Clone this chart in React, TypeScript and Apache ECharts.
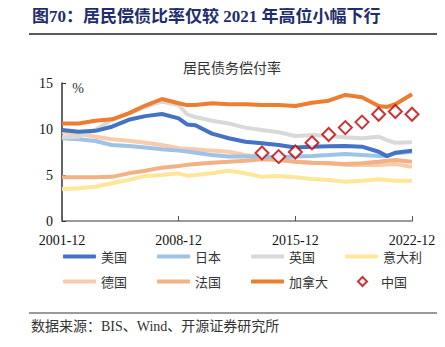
import React, { useEffect, useRef } from "react";
import * as echarts from "echarts";

// Time points (year-end; two extra half-year points)
const years = [
  2001, 2002, 2003, 2004, 2005, 2006, 2007, 2008, 2008.5, 2009, 2010, 2011, 2012,
  2013, 2014, 2015, 2016, 2017, 2018, 2019, 2020, 2020.5, 2021, 2022,
];

const usValues = [9.9, 9.7, 9.8, 10.25, 11.0, 11.4, 11.63, 11.16, 10.5, 10.4, 9.5, 9.0, 8.62, 8.45, 8.26, 8.0, 8.08, 8.12, 8.15, 8.08, 7.53, 7.05, 7.42, 7.65];
const japanValues = [9.0, 8.88, 8.7, 8.26, 8.15, 8.0, 7.8, 7.65, 7.55, 7.42, 7.17, 7.0, 7.0, 7.0, 6.92, 7.0, 7.07, 7.17, 7.28, 7.17, 7.07, 7.1, 7.36, 7.53];
const ukValues = [9.1, 9.16, 9.9, 11.0, 11.7, 12.4, 12.97, 12.6, 11.6, 11.3, 10.9, 10.6, 10.15, 9.9, 9.64, 9.24, 9.35, 9.24, 9.1, 9.0, 9.16, 8.8, 8.5, 8.55];
const italyValues = [3.48, 3.55, 3.73, 4.1, 4.45, 4.9, 5.0, 5.18, 4.93, 5.0, 5.18, 5.47, 5.18, 4.8, 4.9, 4.75, 4.57, 4.45, 4.27, 4.38, 4.53, 4.45, 4.38, 4.38];
const germanyValues = [9.64, 9.5, 9.16, 8.88, 8.73, 8.5, 8.26, 7.9, 7.85, 7.8, 7.65, 7.53, 7.17, 6.92, 6.7, 6.45, 6.34, 6.27, 6.1, 6.1, 6.1, 6.15, 6.2, 5.9];
const franceValues = [4.75, 4.75, 4.75, 4.8, 5.18, 5.47, 5.8, 5.98, 6.1, 6.2, 6.34, 6.45, 6.56, 6.7, 6.63, 6.45, 6.34, 6.27, 6.2, 6.27, 6.45, 6.55, 6.63, 6.45];
const canadaValues = [10.6, 10.6, 10.9, 11.05, 11.7, 12.55, 13.26, 12.8, 12.6, 12.6, 12.8, 12.7, 12.7, 12.6, 12.6, 12.5, 12.86, 13.08, 13.7, 13.45, 12.5, 12.4, 12.7, 13.77];

const chinaYears = [2013, 2014, 2015, 2016, 2017, 2018, 2019, 2020, 2021, 2022];
const chinaValues = [7.4, 7.0, 7.5, 8.5, 9.4, 10.15, 10.75, 11.6, 11.9, 11.6];

const xTickYears = [2001, 2008, 2015, 2022];
const yTicks = [0, 5, 10, 15];

const lineSeriesDefs = [
  { name: "意大利", values: italyValues, color: "#FFE699" },
  { name: "德国", values: germanyValues, color: "#F8CBAD" },
  { name: "法国", values: franceValues, color: "#F4B183" },
  { name: "日本", values: japanValues, color: "#9DC3E6" },
  { name: "英国", values: ukValues, color: "#D9D9D9" },
  { name: "美国", values: usValues, color: "#4472C4" },
  { name: "加拿大", values: canadaValues, color: "#ED7D31" },
];

const legendOrder = ["美国", "日本", "英国", "意大利", "德国", "法国", "加拿大", "中国"];

const toMonths = (y: number) => Math.round((y - 2001) * 12);

const SERIF = "'Liberation Serif', 'Times New Roman', serif";
const CJK = "'Noto Sans CJK SC', sans-serif";

export default function App() {
  const ref = useRef<HTMLDivElement>(null);

  useEffect(() => {
    if (!ref.current) return;
    const chart = echarts.init(ref.current, undefined, { renderer: "svg" });

    const series: any[] = lineSeriesDefs.map((d) => ({
      name: d.name,
      type: "line",
      data: years.map((y, i) => [toMonths(y), d.values[i]]),
      showSymbol: false,
      symbol: "none",
      color: d.color,
      lineStyle: { color: d.color, width: 4 },
      itemStyle: { color: d.color },
    }));
    series.push({
      name: "中国",
      type: "scatter",
      data: chinaYears.map((y, i) => [toMonths(y), chinaValues[i]]),
      symbol: "diamond",
      symbolSize: 13,
      itemStyle: { color: "#ffffff", borderColor: "#C00000", borderWidth: 2 },
      z: 5,
    });

    const legends = legendOrder.map((name, i) => {
      const col = i % 4;
      const row = Math.floor(i / 4);
      const isChina = name === "中国";
      return {
        data: [name],
        left: isChina ? 58 + 94 * col + 12 : 58 + 94 * col,
        top: row === 0 ? 245 : 270,
        itemWidth: isChina ? 9 : 33,
        itemHeight: isChina ? 9 : 4,
        itemGap: 5,
        icon: isChina ? "diamond" : "roundRect",
        selectedMode: false,
        textStyle: {
          fontFamily: CJK,
          fontSize: 13,
          color: "#333",
          padding: isChina ? [0, 0, 0, 9] : 0,
        },
      };
    });

    chart.setOption({
      animation: false,
      backgroundColor: "#ffffff",
      grid: { left: 62, right: 33, top: 83, bottom: 126, containLabel: false },
      legend: legends,
      xAxis: {
        type: "value",
        min: 0,
        max: toMonths(xTickYears[xTickYears.length - 1]),
        interval: toMonths(xTickYears[1]),
        axisLine: { show: true, lineStyle: { color: "#9a9a9a", width: 2 } },
        axisTick: { show: true, inside: true, length: 5, lineStyle: { color: "#555" } },
        axisLabel: {
          formatter: (v: number) => `${2001 + v / 12}-12`,
          fontFamily: SERIF,
          fontSize: 14,
          color: "#111",
          margin: 12,
        },
        splitLine: { show: false },
      },
      yAxis: {
        type: "value",
        min: yTicks[0],
        max: yTicks[yTicks.length - 1],
        interval: 5,
        axisLine: { show: true, lineStyle: { color: "#333", width: 1.5 } },
        axisTick: { show: true, inside: true, length: 4, lineStyle: { color: "#333" } },
        axisLabel: { fontFamily: SERIF, fontSize: 14, color: "#111", margin: 9 },
        splitLine: { show: false },
      },
      graphic: [
        { type: "line", shape: { x1: 0, y1: 34, x2: 8, y2: 34 }, style: { stroke: "#222", lineWidth: 1.5 } },
        { type: "line", shape: { x1: 29, y1: 34, x2: 441, y2: 34 }, style: { stroke: "#222", lineWidth: 1.5 } },
        { type: "line", shape: { x1: 0, y1: 313, x2: 8, y2: 313 }, style: { stroke: "#777", lineWidth: 1.5 } },
        { type: "line", shape: { x1: 29, y1: 313, x2: 441, y2: 313 }, style: { stroke: "#777", lineWidth: 1.5 } },
        {
          type: "text",
          left: 32,
          top: 8,
          style: {
            text: "图70：居民偿债比率仅较 2021 年高位小幅下行",
            font: `bold 17px ${SERIF.split(",")[0]}, ${CJK}`,
            fill: "#1F2D6E",
          },
        },
        {
          type: "text",
          x: 232,
          y: 67,
          style: {
            text: "居民债务偿付率",
            font: `14px ${CJK}`,
            fill: "#333",
            align: "center",
            verticalAlign: "middle",
          },
        },
        {
          type: "text",
          x: 78,
          y: 88,
          style: { text: "%", font: `14px ${SERIF}`, fill: "#333", align: "center", verticalAlign: "middle" },
        },
        {
          type: "text",
          x: 31,
          y: 326,
          style: {
            text: "数据来源：BIS、Wind、开源证券研究所",
            font: `14px ${SERIF.split(",")[0]}, ${CJK}`,
            fill: "#333",
            verticalAlign: "middle",
          },
        },
      ],
      series,
    });

    return () => chart.dispose();
  }, []);

  return <div ref={ref} style={{ width: 445, height: 347, margin: -8 }} />;
}
